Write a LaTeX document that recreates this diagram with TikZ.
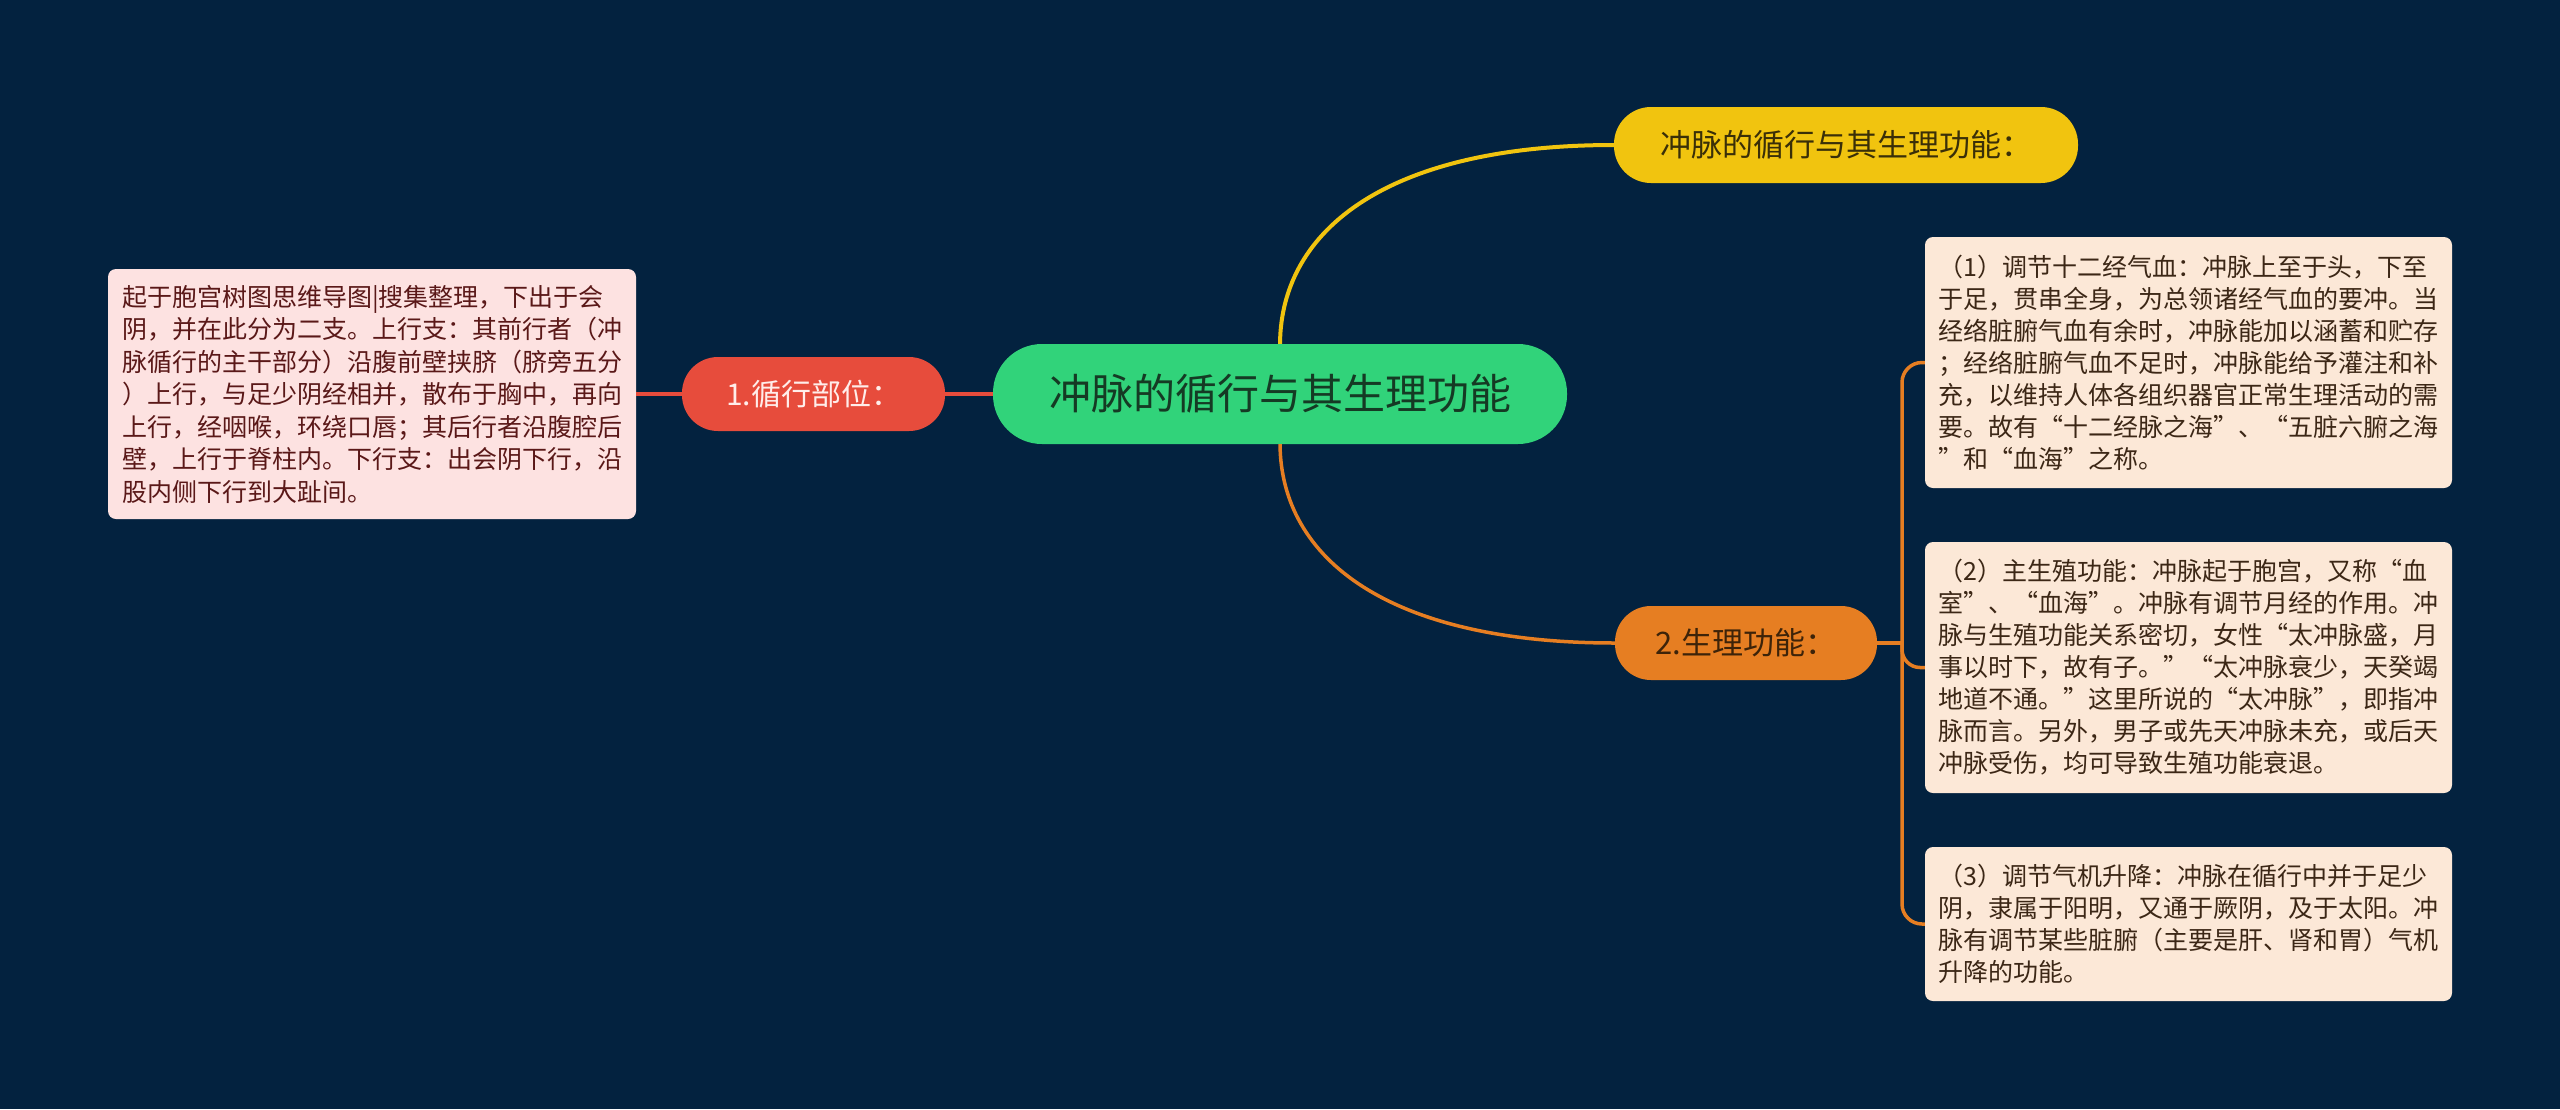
\documentclass[tikz,border=0pt]{standalone}
\usepackage{fontspec}
\newfontfamily\cjk{Noto Sans CJK SC}
\usetikzlibrary{calc}
\definecolor{bgc}{HTML}{03223F}
\definecolor{cgreen}{HTML}{31D37A}
\definecolor{ctext}{HTML}{153A24}
\definecolor{cred}{HTML}{E74C3C}
\definecolor{credtext}{HTML}{FFEDEA}
\definecolor{cyellow}{HTML}{F1C40F}
\definecolor{cyeltext}{HTML}{3A2F08}
\definecolor{corange}{HTML}{E67E22}
\definecolor{corgtext}{HTML}{3D2309}
\definecolor{lboxfill}{HTML}{FDE2E1}
\definecolor{lboxtext}{HTML}{5A1818}
\definecolor{rboxfill}{HTML}{FCE8D7}
\definecolor{rboxtext}{HTML}{3C2716}
\newcommand\zlq{\makebox[1em][r]{“}}
\newcommand\zrq{\makebox[1em][l]{”}}
\begin{document}
\begin{tikzpicture}[x=1pt,y=-1pt,
  topic/.style={inner sep=0pt, align=center},
  textbox/.style={inner sep=0pt, align=left, rounded corners=8pt,
    font=\cjk\fontsize{25pt}{32pt}\selectfont},
  redline/.style={draw=cred, line width=4pt},
  yelline/.style={draw=cyellow, line width=4pt},
  orgline/.style={draw=corange, line width=3.5pt}
]
\fill[bgc] (0,0) rectangle (2560,1109);
\useasboundingbox (0,0) rectangle (2560,1109);

% central topic
\node[topic, fill=cgreen, text=ctext, minimum width=574pt, minimum height=100pt,
  rounded corners=49pt, font=\cjk\fontsize{42pt}{50pt}\selectfont]
  (center) at (1280,394) {冲脉的循行与其生理功能};

% branch 1
\node[topic, fill=cred, text=credtext, minimum width=263pt, minimum height=74pt,
  rounded corners=36pt, font=\cjk\fontsize{30pt}{36pt}\selectfont]
  (n1) at (813.5,394) {1.循行部位：};

\node[textbox, fill=lboxfill, text=lboxtext, minimum width=528pt, minimum height=250pt,
  font=\cjk\fontsize{25pt}{32.5pt}\selectfont]
  (lbox) at (372,394) {起于胞宫树图思维导图|搜集整理，下出于会\\
阴，并在此分为二支。上行支：其前行者（冲\\
脉循行的主干部分）沿腹前壁挟脐（脐旁五分\\
）上行，与足少阴经相并，散布于胸中，再向\\
上行，经咽喉，环绕口唇；其后行者沿腹腔后\\
壁，上行于脊柱内。下行支：出会阴下行，沿\\
股内侧下行到大趾间。};

% yellow topic
\node[topic, fill=cyellow, text=cyeltext, minimum width=464pt, minimum height=76pt,
  rounded corners=37pt, font=\cjk\fontsize{31pt}{36pt}\selectfont]
  (ynode) at (1846,145) {冲脉的循行与其生理功能：};

% orange topic
\node[topic, fill=corange, text=corgtext, minimum width=262pt, minimum height=74pt,
  rounded corners=36pt, font=\cjk\fontsize{31pt}{36pt}\selectfont]
  (onode) at (1746,643) {2.生理功能：};

% right boxes
\node[textbox, fill=rboxfill, text=rboxtext, minimum width=527pt, minimum height=251pt]
  (b1) at (2188.5,362.5) {（1）调节十二经气血：冲脉上至于头，下至\\
于足，贯串全身，为总领诸经气血的要冲。当\\
经络脏腑气血有余时，冲脉能加以涵蓄和贮存\\
；经络脏腑气血不足时，冲脉能给予灌注和补\\
充，以维持人体各组织器官正常生理活动的需\\
要。故有\zlq 十二经脉之海\zrq 、\zlq 五脏六腑之海\\
\zrq 和\zlq 血海\zrq 之称。};

\node[textbox, fill=rboxfill, text=rboxtext, minimum width=527pt, minimum height=251pt]
  (b2) at (2188.5,667.5) {（2）主生殖功能：冲脉起于胞宫，又称\zlq 血\\
室\zrq 、\zlq 血海\zrq 。冲脉有调节月经的作用。冲\\
脉与生殖功能关系密切，女性\zlq 太冲脉盛，月\\
事以时下，故有子。\zrq\zlq 太冲脉衰少，天癸竭\\
地道不通。\zrq 这里所说的\zlq 太冲脉\zrq ，即指冲\\
脉而言。另外，男子或先天冲脉未充，或后天\\
冲脉受伤，均可导致生殖功能衰退。};

\node[textbox, fill=rboxfill, text=rboxtext, minimum width=527pt, minimum height=154pt]
  (b3) at (2188.5,924) {（3）调节气机升降：冲脉在循行中并于足少\\
阴，隶属于阳明，又通于厥阴，及于太阳。冲\\
脉有调节某些脏腑（主要是肝、肾和胃）气机\\
升降的功能。};

% connectors
\begin{scope}[on background layer/.try]
\end{scope}
\draw[redline] (center.west) -- (n1.east);
\draw[redline] (n1.west) -- (lbox.east);
\draw[yelline] (center.north) .. controls (1281,228) and (1390,145) .. (ynode.west);
\draw[orgline] (center.south) .. controls (1281,560) and (1390,643) .. (onode.west);

\coordinate (bj) at (1902,643);
\draw[orgline] (onode.east) -- (bj);
\draw[orgline, rounded corners=20pt] (bj) -- (bj |- b1.west) -- (b1.west);
\draw[orgline, rounded corners=18pt] (bj) -- (bj |- b2.west) -- (b2.west);
\draw[orgline, rounded corners=20pt] (bj) -- (bj |- b3.west) -- (b3.west);
\end{tikzpicture}
\end{document}
